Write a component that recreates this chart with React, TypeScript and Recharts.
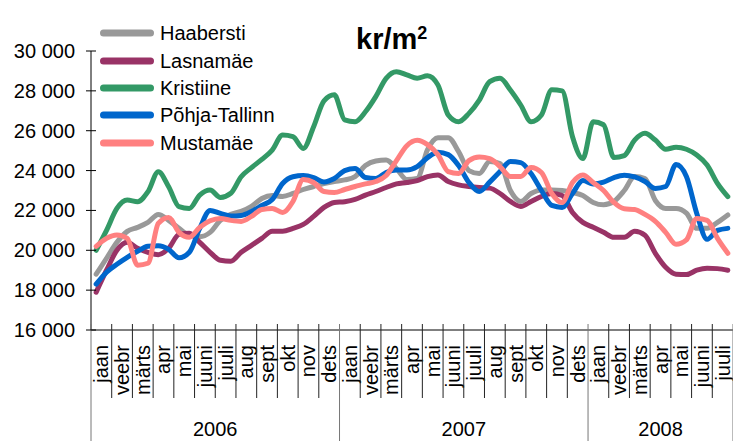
import { LineChart, Line, XAxis, YAxis, Legend } from "recharts";

const FONT = "'Liberation Sans', Arial, sans-serif";
const W = 733;
const H = 441;
const LEFT = 91;
const TOP = 51;
const BOTTOM = 111;
const N_MONTHS = 31;
const PLOT_W = W - LEFT;
const MONTH_W = PLOT_W / N_MONTHS;
const AXIS_Y = H - BOTTOM;

const monthNames = ["jaan", "veebr", "märts", "apr", "mai", "juuni", "juuli", "aug", "sept", "okt", "nov", "dets"];
const monthLabels = [...monthNames, ...monthNames, ...monthNames.slice(0, 7)];
const years = [
  { label: "2006", start: 0, months: 12 },
  { label: "2007", start: 12, months: 12 },
  { label: "2008", start: 24, months: 7 },
];
const yTicks = [16000, 18000, 20000, 22000, 24000, 26000, 28000, 30000];

// two readings per month, jaan 2006 .. juuli 2008
const haabersti = [
  18800, 19600, 20400, 20950, 21150, 21400, 21800, 21500, 21100, 20750, 20680, 20900,
  21500, 21800, 21950, 22200, 22600, 22750, 22700, 22850, 23050, 23200, 23350, 23450,
  23530, 23700, 24250, 24480, 24530, 24100, 23550, 23600, 25050, 25650, 25650, 24950,
  24000, 23850, 24450, 24350, 23000, 22450, 22850, 23030, 23030, 23000, 22900, 22750,
  22400, 22280, 22450, 23000, 23700, 23600, 22500, 22100, 22100, 21870, 21100, 21100,
  21400, 21770,
];
const lasnamae = [
  17900, 19000, 20000, 20400, 20100, 19900, 19780, 20100, 20800, 20850, 20400, 19900,
  19500, 19450, 19900, 20250, 20600, 20950, 20950, 21100, 21300, 21700, 22150, 22400,
  22440, 22550, 22770, 22950, 23150, 23330, 23400, 23500, 23700, 23780, 23450, 23280,
  23200, 23150, 23120, 22850, 22450, 22200, 22450, 22700, 22850, 22750, 21900, 21400,
  21150, 20900, 20650, 20650, 20950, 20750, 19850, 19150, 18800, 18780, 19000, 19100,
  19080, 19000,
];
const kristiine = [
  20000, 21000, 22100, 22520, 22440, 22940, 23940, 23190, 22190, 22100, 22770, 23020,
  22650, 22860, 23690, 24150, 24560, 25030, 25780, 25700, 25110, 26200, 27500, 27800,
  26540, 26450, 26950, 27710, 28630, 28960, 28800, 28630, 28760, 28300, 26790, 26450,
  26870, 27540, 28460, 28630, 28040, 27290, 26450, 26790, 28050, 28000, 25700, 24600,
  26450, 26300, 24650, 24750, 25530, 25870, 25530, 25070, 25170, 25070, 24780, 24280,
  23360, 22690,
];
const pohjaTallinn = [
  18300, 18900, 19300, 19650, 19950, 20200, 20230, 20050, 19620, 19900, 21100, 22000,
  21850, 21720, 21750, 21950, 22250, 22550, 23350, 23690, 23750, 23650, 23430, 23600,
  24000, 24100, 23650, 23600, 23900, 24030, 24030, 24200, 24650, 24920, 24800, 24250,
  23400, 22950, 23420, 23950, 24450, 24400, 23850, 23000, 22250, 22150, 22850, 23500,
  23330, 23420, 23650, 23770, 23680, 23450, 23100, 23200, 24300, 23700, 21850, 20550,
  21000, 21100,
];
const mustamae = [
  20200, 20600, 20770, 20600, 19250, 19350, 21350, 21650, 20900, 20650, 21150, 21480,
  21600, 21500, 21450, 21700, 22050, 22100, 21900, 22450, 23550, 23400, 22950, 22900,
  23050, 23200, 23330, 23450, 23750, 24500, 25250, 25520, 25300, 24800, 23950, 23850,
  24500, 24680, 24600, 24200, 23700, 23700, 24150, 23900, 22850, 22400, 23400, 23780,
  23400, 23000, 22400, 22080, 22050, 21800, 21450, 20900, 20300, 20520, 21600, 21500,
  20600, 19850,
];

const series = [
  { key: "Haabersti", values: haabersti, color: "#999999" },
  { key: "Lasnamäe", values: lasnamae, color: "#993366" },
  { key: "Kristiine", values: kristiine, color: "#339966" },
  { key: "Põhja-Tallinn", values: pohjaTallinn, color: "#0066CC" },
  { key: "Mustamäe", values: mustamae, color: "#FF8080" },
];

const data = haabersti.map((_, i) => {
  const row: Record<string, number> = { t: (i + 0.5) / 2 };
  series.forEach(s => { row[s.key] = s.values[i]; });
  return row;
});

const fmt = (v: number) => String(v).replace(/\B(?=(\d{3})+(?!\d))/g, " ");

function YTick({ y, payload }: any) {
  return (
    <g>
      <line x1={LEFT - 5} x2={LEFT + 5} y1={y} y2={y} stroke="#000" />
      <text x={75} y={y} textAnchor="end" dominantBaseline="central" fontSize={20} fontFamily={FONT} fill="#000">
        {fmt(payload.value)}
      </text>
    </g>
  );
}

function MonthTick({ x, payload }: any) {
  const i = payload.value as number;
  const year = years.find(yr => yr.start === i);
  const isYearEdge = !!year || i === N_MONTHS;
  return (
    <g>
      <line x1={x} x2={x} y1={AXIS_Y - 6} y2={isYearEdge ? H : 398} stroke={isYearEdge ? "#777" : "#222"} />
      {i < N_MONTHS && (
        <text
          transform={`translate(${x + MONTH_W / 2},${AXIS_Y + 15}) rotate(-90)`}
          textAnchor="end"
          dy="0.35em"
          fontSize={20}
          fontFamily={FONT}
          fill="#000"
        >
          {monthLabels[i]}
        </text>
      )}
      {year && (
        <text x={x + (year.months * MONTH_W) / 2} y={436} textAnchor="middle" fontSize={20} fontFamily={FONT} fill="#000">
          {year.label}
        </text>
      )}
    </g>
  );
}

const renderLegend = () => (
  <div style={{ fontFamily: FONT, fontSize: 20, color: "#000" }}>
    {series.map(s => (
      <div key={s.key} style={{ display: "flex", alignItems: "center", height: 27.4 }}>
        <svg width={60} height={10} style={{ display: "block" }}>
          <line x1={6.5} x2={53.5} y1={5} y2={5} stroke={s.color} strokeWidth={7} strokeLinecap="round" />
        </svg>
        <span style={{ marginLeft: 3, lineHeight: "20px" }}>{s.key}</span>
      </div>
    ))}
  </div>
);

export default function App() {
  const monthTicks = Array.from({ length: N_MONTHS + 1 }, (_, i) => i);
  return (
    <div style={{ position: "absolute", left: 0, top: 0, width: W, height: H, background: "#fff" }}>
      <LineChart width={W} height={H} data={data} margin={{ top: TOP, right: 0, bottom: 0, left: 0 }}>
        <XAxis
          type="number"
          dataKey="t"
          domain={[0, N_MONTHS]}
          ticks={monthTicks}
          interval={0}
          tickLine={false}
          axisLine={{ stroke: "#000" }}
          height={BOTTOM}
          tick={(p: any) => <MonthTick {...p} />}
          allowDataOverflow
        />
        <YAxis
          domain={[16000, 30000]}
          ticks={yTicks}
          interval={0}
          width={LEFT}
          tickLine={false}
          axisLine={{ stroke: "#000" }}
          tick={(p: any) => <YTick {...p} />}
          allowDataOverflow
        />
        <Legend
          layout="vertical"
          align="center"
          verticalAlign="middle"
          content={renderLegend}
          wrapperStyle={{ position: "absolute", left: 97, top: 19.5, width: 240, height: "auto" }}
        />
        {series.map(s => (
          <Line
            key={s.key}
            type="monotone"
            dataKey={s.key}
            stroke={s.color}
            strokeWidth={5}
            strokeLinejoin="round"
            strokeLinecap="round"
            dot={false}
            activeDot={false}
            isAnimationActive={false}
          />
        ))}
      </LineChart>
      <div
        style={{
          position: "absolute",
          left: 356,
          top: 14,
          fontFamily: FONT,
          fontWeight: "bold",
          fontSize: 29,
          lineHeight: "36px",
          color: "#000",
        }}
      >
        kr/m<sup style={{ fontSize: 18, position: "relative", top: 1 }}>2</sup>
      </div>
    </div>
  );
}
